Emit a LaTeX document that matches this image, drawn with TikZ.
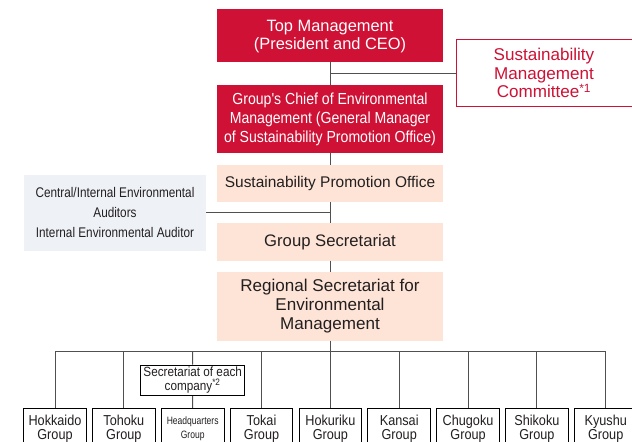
\documentclass[tikz,border=0pt]{standalone}
\usepackage{fontspec}
\setmainfont{Liberation Sans}
\newfontfamily\narrowsf{Liberation Sans}[FakeStretch=0.88]
\newfontfamily\auditsf{Liberation Sans}[FakeStretch=0.84]
\newfontfamily\condsf{Liberation Sans}[FakeStretch=0.8]

\definecolor{mgred}{RGB}{206,17,53}
\definecolor{peach}{RGB}{253,228,214}
\definecolor{auditbg}{RGB}{238,242,247}
\definecolor{ink}{RGB}{35,31,32}
\definecolor{wire}{RGB}{80,80,80}

\begin{document}
\begin{tikzpicture}[x=0.75pt, y=-0.75pt,
    every node/.style={inner sep=0pt, align=center, text=ink},
    redbox/.style={fill=mgred, text=white, minimum width=169.5pt},
    peachbox/.style={fill=peach, minimum width=169.5pt},
    groupbox/.style={draw=black, line width=0.6pt, fill=white, minimum width=47pt, minimum height=30pt,
      font=\narrowsf\fontsize{10.8}{10.5}\selectfont},
    hqtext/.style={font=\condsf\fontsize{8}{10.5}\selectfont},
    grouptext/.style={},
    wires/.style={draw=wire, line width=0.75pt}]

  \clip (0,0) rectangle (632,442);
  \fill[white] (0,0) rectangle (632,442);

  \node[redbox, minimum height=39.75pt, font=\fontsize{12.3}{13.9}\selectfont] (top) at (330,35.5)
    {\rule{0pt}{10pt}Top Management\\(President and CEO)};
  \node[draw=mgred, line width=0.75pt, text=mgred, minimum width=132pt, minimum height=50pt,
    font=\fontsize{12.8}{13.9}\selectfont] (committee) at (544,73.3)
    {Sustainability\\Management\\Committee\textsuperscript{*1}};
  \node[redbox, minimum height=51pt, font=\narrowsf\fontsize{12}{14.2}\selectfont] (chief) at (330,119)
    {Group's Chief of Environmental\\Management (General Manager\\of Sustainability Promotion Office)};
  \node[peachbox, minimum height=27.5pt, font=\fontsize{11.6}{14}\selectfont] (office) at (330,183.3)
    {Sustainability Promotion Office};
  \node[fill=auditbg, minimum width=136.5pt, minimum height=56.8pt,
    font=\auditsf\fontsize{10.5}{15}\selectfont] (auditor) at (115,212.9)
    {Central/Internal Environmental\\Auditors\\Internal Environmental Auditor};
  \node[peachbox, minimum height=28pt, font=\fontsize{12.5}{14}\selectfont] (secgroup) at (330,242)
    {Group Secretariat};
  \node[peachbox, minimum height=51.3pt, font=\fontsize{12.8}{14.2}\selectfont] (regional) at (330,306.5)
    {Regional Secretariat for\\Environmental\\Management};

  %groups
  \foreach \name/\txt [count=\i] in {Hokkaido/grouptext, Tohoku/grouptext, Headquarters/hqtext,
      Tokai/grouptext, Hokuriku/grouptext, Kansai/grouptext, Chugoku/grouptext,
      Shikoku/grouptext, Kyushu/grouptext} {
    \node[groupbox, \txt] (g\i) at ({55+68.84*(\i-1)},428.3) {\name\\Group};
  }
  \node[draw=black, line width=0.6pt, fill=white, minimum width=78pt, minimum height=23pt,
    font=\narrowsf\fontsize{10}{10.5}\selectfont] (company) at (192.7,380.3)
    {Secretariat of each\\company\textsuperscript{*2}};

  \coordinate (bus) at (330,351.7);

  %lines
  \draw[wires] (top) -- (chief);
  \draw[wires] (committee.west) -- (committee.west -| top.south);
  \draw[wires] (chief) -- (office);
  \draw[wires] (office) -- (secgroup);
  \draw[wires] (auditor.east) -- (auditor.east -| office.south);
  \draw[wires] (secgroup) -- (regional);
  \draw[wires] (regional) -- (bus);
  \draw[wires] (g1.north |- bus) -- (g9.north |- bus);
  \foreach \i in {1,2,4,5,6,7,8,9} {
    \draw[wires] (g\i.north |- bus) -- (g\i);
  }
  \draw[wires] (g3.north |- bus) -- (company) -- (g3);
\end{tikzpicture}
\end{document}
